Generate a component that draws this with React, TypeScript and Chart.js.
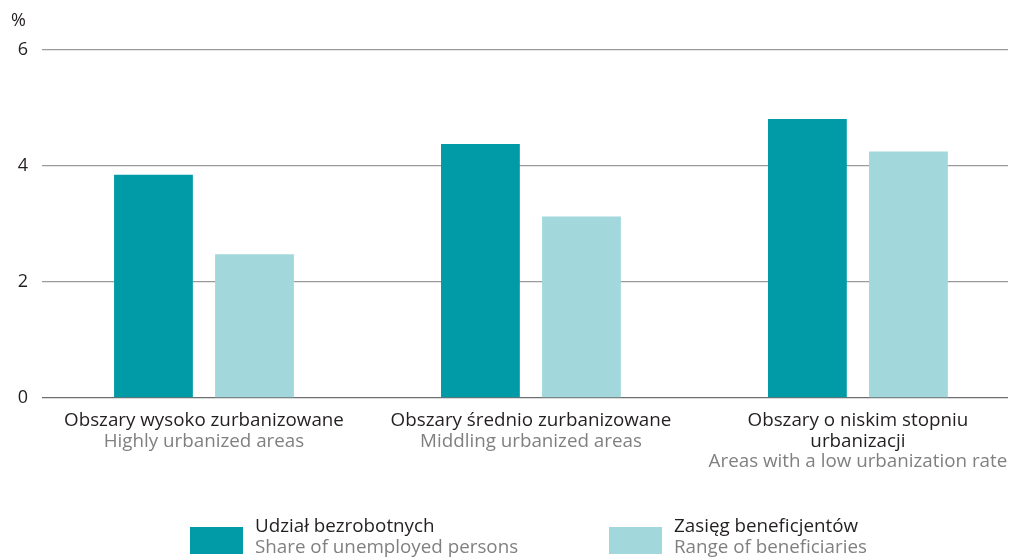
import React, { useEffect, useRef } from "react";
import { Chart, registerables } from "chart.js";

Chart.register(...registerables);

const categoriesPL: string[][] = [
  ["Obszary wysoko zurbanizowane"],
  ["Obszary średnio zurbanizowane"],
  ["Obszary o niskim stopniu", "urbanizacji"],
];
const categoriesEN: string[] = [
  "Highly urbanized areas",
  "Middling urbanized areas",
  "Areas with a low urbanization rate",
];
const unemployedShare: number[] = [3.85, 4.38, 4.81];
const beneficiariesRange: number[] = [2.48, 3.13, 4.25];
const yTicks: number[] = [0, 2, 4, 6];
const seriesPL: string[] = ["Udział bezrobotnych", "Zasięg beneficjentów"];
const seriesEN: string[] = ["Share of unemployed persons", "Range of beneficiaries"];
const colors: string[] = ["#009ba6", "#a2d8db"];

const FONT = "'Open Sans', 'Noto Sans', sans-serif";

export default function App() {
  const ref = useRef<HTMLCanvasElement | null>(null);
  useEffect(() => {
    document.body.style.margin = "0";
    const canvas = ref.current!;
    const labelsPlugin = {
      id: "customLabels",
      afterDraw(chart: any) {
        const ctx = chart.ctx as CanvasRenderingContext2D;
        const xs = chart.scales.x;
        ctx.save();
        ctx.textAlign = "center";
        ctx.textBaseline = "middle";
        categoriesPL.forEach((lines, i) => {
          const px = xs.getPixelForValue(i);
          let y = 421;
          ctx.font = `18.8px ${FONT}`;
          ctx.fillStyle = "#231f20";
          lines.forEach((l) => {
            ctx.fillText(l, px, y);
            y += 20.5;
          });
          ctx.fillStyle = "#808080";
          ctx.fillText(categoriesEN[i], px, y);
        });
        // % label
        ctx.textAlign = "left";
        ctx.fillStyle = "#231f20";
        ctx.font = `18px ${FONT}`;
        ctx.fillText("%", 11, 21);
        // legend
        const legendX = [190, 609];
        ctx.font = `18.8px ${FONT}`;
        seriesPL.forEach((s, i) => {
          const x = legendX[i];
          ctx.fillStyle = colors[i];
          ctx.fillRect(x, 527, 53, 27);
          ctx.textAlign = "left";
          ctx.fillStyle = "#231f20";
          ctx.fillText(s, x + 65, 527);
          ctx.fillStyle = "#808080";
          ctx.fillText(seriesEN[i], x + 65, 548);
        });
        ctx.restore();
      },
    };
    const chart = new Chart(canvas, {
      type: "bar",
      data: {
        datasets: [
          {
            label: seriesPL[0],
            data: unemployedShare.map((v, i) => ({ x: i, y: v })),
            backgroundColor: colors[0],
            categoryPercentage: 0.618,
            barPercentage: 0.78,
          },
          {
            label: seriesPL[1],
            data: beneficiariesRange.map((v, i) => ({ x: i, y: v })),
            backgroundColor: colors[1],
            categoryPercentage: 0.618,
            barPercentage: 0.78,
          },
        ],
      },
      options: {
        animation: false,
        responsive: false,
        maintainAspectRatio: false,
        layout: { padding: { left: 0, right: 3, top: 50, bottom: 0 } },
        plugins: { legend: { display: false }, tooltip: { enabled: false } },
        scales: {
          x: {
            type: "linear",
            offset: false,
            min: -0.4954,
            max: 2.459,
            afterBuildTicks(scale: any) {
              scale.ticks = categoriesEN.map((_, i) => ({ value: i }));
            },
            ticks: { display: false },
            grid: { display: false },
            border: { display: false },
            afterFit(scale: any) {
              scale.height = 160;
            },
          },
          y: {
            min: 0,
            max: 6,
            afterBuildTicks(scale: any) {
              scale.ticks = yTicks.map((v) => ({ value: v }));
            },
            ticks: {
              color: "#231f20",
              font: { family: FONT, size: 18 },
              padding: 14,
            },
            grid: {
              color: (c: any) => (c.tick && c.tick.value === 0 ? "#6d6e71" : "#9a9a9a"),
              lineWidth: 1.3,
              drawTicks: false,
            },
            border: { display: false },
            afterFit(scale: any) {
              scale.width = 42;
            },
          },
        },
      },
      plugins: [labelsPlugin],
    } as any);
    return () => chart.destroy();
  }, []);
  return <canvas ref={ref} width={1011} height={558} style={{ display: "block" }} />;
}
